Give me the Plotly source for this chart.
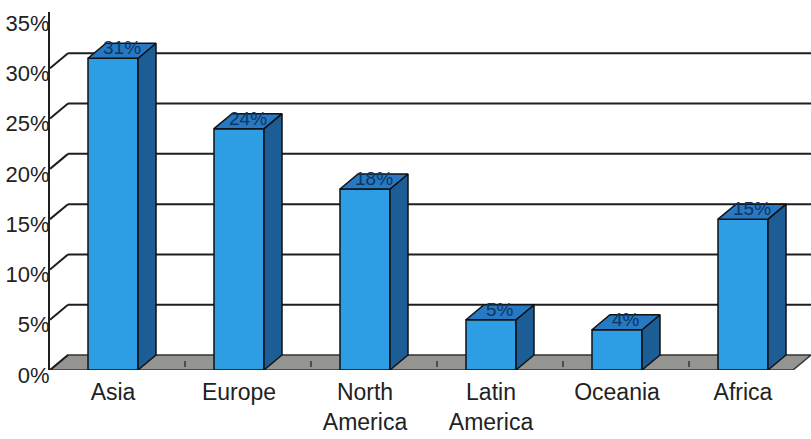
import plotly.graph_objects as go

# Share of total by region (percent)
regions = ["Asia", "Europe", "North<br>America", "Latin<br>America", "Oceania", "Africa"]
shares = [31, 24, 18, 5, 4, 15]
y_ticks = [0, 5, 10, 15, 20, 25, 30, 35]
y_tick_labels = [f"{t}%" for t in y_ticks]

# Pixel geometry of the plot area and the pseudo-3D depth offset
W, H = 811, 439
M_L, M_R, M_T, M_B = 50, 0, 12, 69
PX_PER_CAT = 126.0          # horizontal pixels between category centres
PX_PER_PCT = 10.057         # vertical pixels per percentage point
DEPTH_X_PX, DEPTH_Y_PX = 18, 15
BAR_W = 50 / PX_PER_CAT

x_lo = -0.5
x_hi = x_lo + (W - M_L - M_R) / PX_PER_CAT
y_hi = (H - M_T - M_B) / PX_PER_PCT
dx = DEPTH_X_PX / PX_PER_CAT
dy = DEPTH_Y_PX / PX_PER_PCT

FRONT = "#2d9de4"
SIDE = "#1c5d96"
TOP = "#2679c2"
EDGE = "#111111"
GRID = "#1e1e1e"

xs = list(range(len(regions)))

fig = go.Figure()

# Front faces of the bars
fig.add_trace(go.Bar(
    x=xs, y=shares, width=BAR_W,
    marker=dict(color=FRONT, line=dict(color=EDGE, width=1.5)),
    hoverinfo="skip", showlegend=False,
))

# Side and top faces, built from the same values
side_x, side_y, top_x, top_y = [], [], [], []
for x, v in zip(xs, shares):
    r = x + BAR_W / 2
    l = x - BAR_W / 2
    side_x += [r, r + dx, r + dx, r, r, None]
    side_y += [0, dy, v + dy, v, 0, None]
    top_x += [l, r, r + dx, l + dx, l, None]
    top_y += [v, v, v + dy, v + dy, v, None]

fig.add_trace(go.Scatter(
    x=side_x, y=side_y, mode="lines", fill="toself", fillcolor=SIDE,
    line=dict(color=EDGE, width=1.5), hoverinfo="skip", showlegend=False,
))
fig.add_trace(go.Scatter(
    x=top_x, y=top_y, mode="lines", fill="toself", fillcolor=TOP,
    line=dict(color=EDGE, width=1.5), hoverinfo="skip", showlegend=False,
))

shapes = []
# Floor of the chart box
floor_end = x_hi - dx
shapes.append(dict(
    type="path", layer="below", xref="x", yref="y",
    path=f"M {x_lo},0 L {floor_end},0 L {x_hi},{dy} L {x_lo + dx},{dy} Z",
    fillcolor="#949490", line=dict(color="#333333", width=1.5),
))
# Small category separators on the floor
for i in range(len(regions)):
    xb = i + 0.5
    shapes.append(dict(
        type="line", layer="below", xref="x", yref="y",
        x0=xb + dx * 0.5, x1=xb + dx * 0.5, y0=dy * 0.2, y1=dy * 0.6,
        line=dict(color="#333333", width=1.5),
    ))
# Back-wall gridlines with their diagonal connectors to the front axis
for t in y_ticks[1:-1]:
    shapes.append(dict(
        type="line", layer="below", xref="x", yref="y",
        x0=x_lo + dx, x1=x_hi, y0=t + dy, y1=t + dy,
        line=dict(color=GRID, width=2),
    ))
for t in y_ticks[:-1]:
    shapes.append(dict(
        type="line", layer="below", xref="x", yref="y",
        x0=x_lo, x1=x_lo + dx, y0=t, y1=t + dy,
        line=dict(color=GRID, width=2),
    ))

# Value labels on top of each bar
annotations = []
for x, v in zip(xs, shares):
    annotations.append(dict(
        x=x + dx / 2, y=v + dy / 2, xref="x", yref="y",
        text=f"{v}%", showarrow=False, yshift=3,
        font=dict(family="Liberation Sans, Arial", size=19, color="#10365f"),
    ))

fig.update_layout(
    width=W, height=H,
    margin=dict(l=M_L, r=M_R, t=M_T, b=M_B),
    paper_bgcolor="white", plot_bgcolor="white",
    shapes=shapes, annotations=annotations,
    showlegend=False,
    font=dict(family="Liberation Sans, Arial", size=21, color="#222222"),
    xaxis=dict(
        range=[x_lo, x_hi], tickmode="array", tickvals=xs, ticktext=regions,
        showgrid=False, zeroline=False, showline=False, ticks="",
        tickfont=dict(size=23), ticklabelstandoff=6, fixedrange=True,
    ),
    yaxis=dict(
        range=[0, y_hi], tickmode="array", tickvals=y_ticks, ticktext=y_tick_labels,
        showgrid=False, zeroline=False, showline=True, linecolor=GRID, linewidth=2,
        ticks="", tickfont=dict(size=22), ticklabelshift=5, ticklabelstandoff=-6,
        fixedrange=True,
    ),
)

fig.write_html("out.html")
